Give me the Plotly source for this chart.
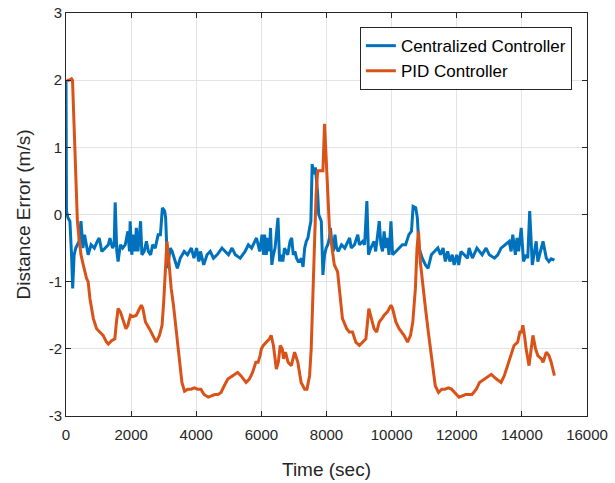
import plotly.graph_objects as go

blue_t = [0, 15, 60, 120, 170, 205, 250, 300, 350, 400, 460, 520, 570, 620, 680, 770, 870, 960, 1020, 1100,
          1200, 1300, 1350, 1430, 1480, 1510, 1560, 1600, 1670, 1740, 1820, 1900, 1950, 1970, 2020, 2080, 2120,
          2160, 2210, 2290, 2330, 2400, 2470, 2530, 2600, 2660, 2740, 2830, 2900, 2960, 3030, 3060, 3120, 3200,
          3260, 3360, 3420, 3510, 3630, 3730, 3850, 3930, 4010, 4080, 4130, 4230, 4330, 4430, 4530, 4640, 4790,
          4890, 4990, 5100, 5200, 5350, 5500, 5600, 5700, 5850, 5950, 6020, 6070, 6100, 6150, 6200, 6250, 6280,
          6320, 6370, 6420, 6510, 6560, 6610, 6660, 6710, 6760, 6810, 6880, 6930, 6980, 7030, 7080, 7130, 7180,
          7230, 7280, 7330, 7380, 7430, 7480, 7520, 7560, 7610, 7660, 7700, 7730, 7760, 7810, 7840, 7890, 7940,
          7990, 8040, 8090, 8120, 8160, 8210, 8260, 8310, 8360, 8410, 8460, 8560, 8660, 8710, 8760, 8860, 8960,
          9010, 9110, 9170, 9240, 9290, 9360, 9460, 9510, 9620, 9670, 9720, 9770, 9820, 9870, 9920, 9980, 10030,
          10130, 10230, 10330, 10430, 10530, 10610, 10660, 10740, 10790, 10840, 10940, 11040, 11120, 11220, 11320,
          11420, 11500, 11580, 11650, 11720, 11790, 11860, 11920, 12000, 12060, 12130, 12230, 12330, 12380, 12480,
          12620, 12700, 12780, 12900, 13000, 13160, 13260, 13360, 13490, 13610, 13670, 13720, 13800, 13850, 13900,
          13980, 14050, 14130, 14180, 14240, 14320, 14390, 14440, 14490, 14650, 14750, 14830, 14900, 15000]
blue_e = [2.0, 0.05, -0.05, -0.1, -0.6, -1.1, -0.6, -0.5, -0.45, -0.4, -0.1, -0.5, -0.3, -0.45, -0.6, -0.45, -0.5,
          -0.4, -0.35, -0.55, -0.5, -0.45, -0.35, -0.5, -0.45, 0.18, -0.55, -0.7, -0.45, -0.5, -0.45, -0.25, -0.55,
          -0.1, -0.6, -0.3, -0.55, -0.2, -0.55, -0.1, -0.6, -0.55, -0.4, -0.55, -0.6, -0.45, -0.5, -0.3, -0.3, 0.1,
          0.05, -0.05, -0.8, -0.5, -0.55, -0.7, -0.8, -0.65, -0.55, -0.6, -0.5, -0.65, -0.5, -0.7, -0.55, -0.75,
          -0.6, -0.55, -0.65, -0.6, -0.5, -0.55, -0.6, -0.5, -0.6, -0.65, -0.55, -0.45, -0.5, -0.35, -0.55, -0.3,
          -0.6, -0.3, -0.6, -0.35, -0.55, -0.2, -0.75, -0.6, -0.5, -0.05, -0.7, -0.6, -0.7, -0.5, -0.55, -0.6,
          -0.4, -0.35, -0.6, -0.55, -0.65, -0.7, -0.7, -0.65, -0.78, -0.5, -0.4, -0.35, -0.2, -0.1, 0.75, 0.6,
          0.7, 0.5, 0.3, 0.0, -0.05, -0.1, -0.9, -0.6, -0.5, -0.45, -0.35, -0.2, -0.4, -0.55, -0.3, -0.5, -0.55,
          -0.5, -0.45, -0.5, -0.4, -0.35, -0.5, -0.45, -0.3, -0.45, -0.4, -0.45, 0.2, -0.6, -0.5, -0.4, -0.55,
          -0.1, -0.45, -0.55, -0.25, -0.5, -0.35, -0.6, -0.1, -0.6, -0.55, -0.5, -0.45, -0.45, -0.3, -0.25, 0.12,
          0.1, -0.05, -0.5, -0.65, -0.75, -0.8, -0.6, -0.55, -0.5, -0.6, -0.5, -0.7, -0.55, -0.7, -0.6, -0.75,
          -0.6, -0.75, -0.55, -0.6, -0.65, -0.5, -0.65, -0.5, -0.55, -0.6, -0.5, -0.6, -0.65, -0.6, -0.5, -0.45,
          -0.4, -0.55, -0.3, -0.6, -0.35, -0.55, -0.2, -0.7, -0.6, -0.65, 0.05, -0.75, -0.55, -0.4, -0.7, -0.4,
          -0.65, -0.7, -0.66, -0.68]

pid_t = [20, 100, 170, 200, 250, 300, 350, 400, 460, 530, 630, 680, 735, 840, 940, 1040, 1140, 1245, 1300, 1400,
         1500, 1550, 1600, 1670, 1760, 1840, 1900, 1980, 2060, 2160, 2260, 2315, 2360, 2440, 2560, 2660, 2770,
         2870, 2950, 3000, 3050, 3100, 3160, 3230, 3300, 3380, 3480, 3560, 3640, 3740, 3840, 3940, 4040, 4140,
         4240, 4370, 4470, 4570, 4670, 4760, 4860, 4970, 5120, 5270, 5370, 5530, 5630, 5730, 5830, 5900, 5960,
         6000, 6060, 6150, 6250, 6300, 6370, 6460, 6520, 6580, 6640, 6680, 6740, 6820, 6920, 7020, 7120, 7220,
         7330, 7400, 7480, 7530, 7580, 7630, 7680, 7730, 7830, 7890, 7940, 7990, 8040, 8090, 8170, 8240, 8340,
         8390, 8490, 8620, 8700, 8800, 8900, 9010, 9110, 9210, 9300, 9360, 9460, 9540, 9620, 9700, 9770, 9870,
         9980, 10030, 10130, 10230, 10380, 10490, 10580, 10650, 10730, 10780, 10825, 10880, 10940, 11040, 11140,
         11240, 11340, 11440, 11540, 11640, 11740, 11840, 11940, 12070, 12170, 12270, 12470, 12600, 12700, 12850,
         13060, 13220, 13360, 13460, 13560, 13660, 13760, 13870, 13940, 13990, 14030, 14080, 14130, 14220, 14290,
         14340, 14420, 14490, 14600, 14650, 14750, 14830, 14900, 15000]
pid_e = [2.0, 2.0, 2.02, 2.0, 1.3, 0.5, -0.1, -0.35, -0.6, -0.75, -0.95, -1.0, -1.25, -1.55, -1.7, -1.75, -1.8,
         -1.9, -1.93, -1.88, -1.85, -1.6, -1.4, -1.45, -1.6, -1.7, -1.65, -1.5, -1.52, -1.5, -1.4, -1.35, -1.4,
         -1.6, -1.7, -1.8, -1.9, -1.8, -1.65, -1.3, -0.9, -0.4, -0.7, -1.1, -1.35, -1.7, -2.2, -2.5, -2.63, -2.6,
         -2.6, -2.58, -2.6, -2.6, -2.68, -2.72, -2.7, -2.68, -2.68, -2.65, -2.55, -2.45, -2.4, -2.35, -2.4, -2.5,
         -2.45, -2.35, -2.2, -2.2, -2.1, -2.0, -1.95, -1.9, -1.85, -1.8, -1.95, -2.3, -2.2, -1.95, -2.0, -2.15,
         -2.05, -2.2, -2.25, -2.05, -2.2, -2.5, -2.6, -2.6, -2.4, -2.0, -1.2, -0.3, 0.3, 0.65, 0.65, 0.65, 1.35,
         0.8, 0.3, -0.2, -0.5, -0.75, -0.85, -1.1, -1.55, -1.7, -1.75, -1.75, -1.9, -1.95, -1.9, -1.85, -1.4,
         -1.5, -1.7, -1.75, -1.6, -1.55, -1.5, -1.45, -1.35, -1.4, -1.6, -1.7, -1.8, -1.9, -1.8, -1.6, -1.1, -0.5,
         -0.25, -0.7, -1.0, -1.4, -1.8, -2.2, -2.55, -2.65, -2.6, -2.6, -2.58, -2.6, -2.65, -2.72, -2.7, -2.68,
         -2.68, -2.6, -2.5, -2.45, -2.38, -2.45, -2.5, -2.4, -2.25, -2.1, -1.95, -1.9, -1.75, -1.75, -1.65, -1.8,
         -2.0, -2.25, -1.95, -1.8, -2.0, -2.1, -2.15, -2.2, -2.05, -2.1, -2.2, -2.4]

x_ticks = [0, 2000, 4000, 6000, 8000, 10000, 12000, 14000, 16000]
y_ticks = [-3, -2, -1, 0, 1, 2, 3]
y_tick_text = ["-3", "-2", "-1", "0", "1", "2", "3"]

FONT = "Liberation Sans, Arial, sans-serif"
AX = "#262626"

fig = go.Figure()
fig.add_trace(go.Scatter(x=blue_t, y=blue_e, mode="lines", name="Centralized Controller",
                         line=dict(color="#0072BD", width=3)))
fig.add_trace(go.Scatter(x=pid_t, y=pid_e, mode="lines", name="PID Controller",
                         line=dict(color="#D95319", width=3)))

axis_common = dict(showgrid=True, gridcolor="#e3e3e3", gridwidth=1, zeroline=False,
                   showline=True, linecolor=AX, linewidth=1, mirror="ticks",
                   ticks="inside", ticklen=5, tickcolor=AX, automargin=False,
                   tickfont=dict(family=FONT, size=15, color=AX))

fig.update_xaxes(range=[0, 16000], tickvals=x_ticks, ticktext=[str(v) for v in x_ticks],
                 ticklabelstandoff=5,
                 title=dict(text="Time (sec)", font=dict(family=FONT, size=19, color=AX), standoff=20),
                 **axis_common)
fig.update_yaxes(range=[-3, 3], tickvals=y_ticks, ticktext=y_tick_text,
                 title=dict(text="Distance Error (m/s)", font=dict(family=FONT, size=19, color=AX), standoff=13),
                 **axis_common)

fig.update_layout(
    width=615, height=483,
    margin=dict(l=66, r=28, t=13, b=67, autoexpand=False),
    plot_bgcolor="white", paper_bgcolor="white",
    font=dict(family=FONT, color=AX),
    legend=dict(x=0.971, y=0.965, xanchor="right", yanchor="top",
                bgcolor="white", bordercolor=AX, borderwidth=1,
                font=dict(family=FONT, size=17, color="#000000"),
                tracegroupgap=0),
    showlegend=True,
)

fig.write_html("out.html")
